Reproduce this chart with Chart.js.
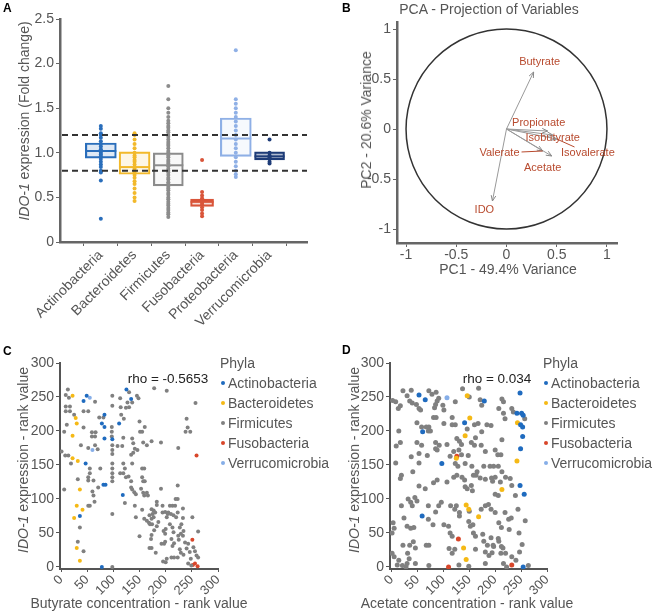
<!DOCTYPE html>
<html>
<head>
<meta charset="utf-8">
<script src="https://cdn.jsdelivr.net/npm/chart.js@4/dist/chart.umd.min.js"></script>
<style>
body{margin:0;background:#fff;font-family:"Liberation Sans",Arial,sans-serif;}
#wrap{position:relative;width:654px;height:612px;overflow:hidden;}
canvas{position:absolute;}
.t{position:absolute;white-space:nowrap;color:#555;font-size:14px;line-height:1;}
.rot{transform:translate(-50%,-50%) rotate(-90deg);}
.ctr{transform:translate(-50%,-50%);}
.letter{position:absolute;font-weight:bold;font-size:12px;color:#000;line-height:1;}
.rho{position:absolute;white-space:nowrap;color:#222;font-size:13.5px;line-height:1;transform:translate(-50%,-50%);}
.leg{position:absolute;font-size:14px;color:#555;line-height:1;}
.leg div{position:relative;height:20px;padding-left:8px;white-space:nowrap;}
.leg span{position:absolute;left:1px;top:5px;width:4px;height:4px;border-radius:50%;}
</style>
</head>
<body>
<div id="wrap">
<canvas id="cA" width="327" height="350" style="left:0;top:0"></canvas>
<canvas id="cB" width="327" height="300" style="left:327px;top:0"></canvas>
<canvas id="cC" width="327" height="272" style="left:0;top:340px"></canvas>
<canvas id="cD" width="327" height="272" style="left:327px;top:340px"></canvas>

<div class="letter" style="left:3px;top:2px">A</div>
<div class="t rot" style="left:24px;top:121px"><i>IDO-1</i> expression (Fold change)</div>

<div class="letter" style="left:342px;top:2px">B</div>
<div class="t ctr" style="left:489px;top:9px">PCA - Projection of Variables</div>
<div class="t rot" style="left:366px;top:120px">PC2 - 20.6% Variance</div>
<div class="t ctr" style="left:508px;top:269px">PC1 - 49.4% Variance</div>

<div class="letter" style="left:3px;top:345px">C</div>
<div class="t rot" style="left:23px;top:460px"><i>IDO-1</i> expression - rank value</div>
<div class="t ctr" style="left:139px;top:603px">Butyrate concentration - rank value</div>
<div class="rho" style="left:168px;top:379px">rho = -0.5653</div>
<div class="leg" id="legC" style="left:220px;top:356px"></div>

<div class="letter" style="left:342px;top:344px">D</div>
<div class="t rot" style="left:354px;top:460px"><i>IDO-1</i> expression - rank value</div>
<div class="t ctr" style="left:467px;top:603px">Acetate concentration - rank value</div>
<div class="rho" style="left:497px;top:379px">rho = 0.034</div>
<div class="leg" id="legD" style="left:543px;top:356px"></div>
</div>

<script>
// ---- Panel A: fold change by phylum
const phyla = ["Actinobacteria","Bacteroidetes","Firmicutes","Fusobacteria","Proteobacteria","Verrucomicrobia"];
const boxQ1 = [0.94,0.76,0.63,0.40,0.96,0.92];
const boxQ3 = [1.11,1.01,1.00,0.48,1.39,1.01];
const boxMedian = [1.02,0.84,0.86,0.45,1.16,0.96];
const foldActino = [1.3,1.27,1.22,1.2,1.17,1.13,1.1,1.07,1.04,1.02,1.0,0.98,0.96,0.93,0.9,0.87,0.84,0.8,0.78,0.69,0.26];
const foldBactero = [1.22,1.2,1.15,1.1,1.05,1.0,0.97,0.95,0.92,0.9,0.87,0.84,0.82,0.8,0.78,0.75,0.72,0.68,0.65,0.6,0.55,0.5,0.46];
const foldFirmi = [0.28,0.31,0.33,0.36,0.38,0.41,0.43,0.45,0.48,0.5,0.53,0.55,0.58,0.6,0.62,0.65,0.67,0.7,0.72,0.75,0.78,0.8,0.82,0.85,0.88,0.9,0.92,0.95,0.97,1.0,1.02,1.05,1.08,1.1,1.12,1.15,1.18,1.2,1.23,1.25,1.28,1.3,1.33,1.36,1.4,1.45,1.5,1.6,1.75];
const foldFuso = [0.92,0.56,0.52,0.49,0.46,0.44,0.42,0.39,0.36,0.32,0.29];
const foldProteo = [2.15,1.6,1.55,1.5,1.45,1.4,1.35,1.3,1.25,1.2,1.15,1.1,1.05,1.0,0.95,0.9,0.85,0.8,0.76,0.73];
const foldVerruco = [1.15,1.0,0.97,0.95,0.93,0.9,0.88];
const cutoffs = [0.8,1.2];

// ---- Panel B: PCA variable projections
const pcaVars = ["Butyrate","Propionate","Isobutyrate","Valerate","Isovalerate","Acetate","IDO"];
const pcaX = [0.27,0.41,0.46,0.36,0.50,0.45,-0.14];
const pcaY = [0.57,-0.02,-0.06,-0.22,-0.10,-0.27,-0.72];
const pcaLabelX = [0.33,0.32,0.46,-0.07,0.81,0.36,-0.22];
const pcaLabelY = [0.67,0.06,-0.09,-0.24,-0.24,-0.39,-0.81];
const pcaConnector = [false,false,false,true,true,false,false];

// ---- Panels C and D: rank scatter, [concentration rank, IDO-1 rank]
const legendPhyla = ["Actinobacteria","Bacteroidetes","Firmicutes","Fusobacteria","Verrucomicrobia"];
const cActino = [[49,252],[43,244],[125,261],[134,247],[83,224],[78,211],[83,206],[111,211],[83,189],[98,188],[47,152],[81,121],[85,121],[118,106],[36,75],[78,0]];
const cBactero = [[22,252],[28,219],[30,211],[22,193],[22,160],[32,156],[36,114],[30,90],[41,84],[25,72],[30,28],[36,9]];
const cFirmi = [[13,261],[9,253],[15,249],[65,243],[98,252],[98,237],[130,257],[127,242],[136,242],[145,252],[148,248],[178,263],[202,259],[257,241],[9,236],[9,229],[17,236],[17,229],[25,224],[43,229],[52,229],[73,220],[81,220],[97,206],[124,234],[130,235],[160,206],[151,199],[155,199],[240,218],[242,205],[247,199],[238,199],[11,209],[6,199],[43,205],[59,198],[66,198],[59,192],[65,192],[97,199],[97,192],[119,190],[136,189],[138,182],[173,185],[191,183],[224,175],[38,179],[52,175],[65,179],[70,173],[98,179],[98,172],[98,166],[108,178],[117,178],[134,165],[138,168],[141,174],[146,172],[157,183],[164,179],[8,164],[14,164],[1,170],[115,224],[120,218],[150,214],[113,248],[114,235],
[19,152],[55,145],[75,145],[98,152],[98,145],[98,138],[98,132],[98,126],[119,152],[122,145],[136,152],[155,145],[159,145],[113,138],[119,138],[124,132],[129,133],[134,126],[155,132],[157,126],[160,126],[55,138],[52,132],[32,129],[52,127],[62,127],[6,114],[71,117],[60,111],[62,105],[64,96],[52,90],[55,90],[98,78],[122,94],[134,117],[136,114],[140,110],[143,107],[153,115],[157,109],[159,105],[164,109],[166,105],[141,90],[155,84],[143,73],[159,71],[164,68],[169,76],[170,63],[173,85],[177,83],[180,80],[183,96],[183,91],[175,78],[177,73],[173,71],[168,65],[174,63],[191,115],[194,90],[194,80],[199,81],[204,78],[202,73],[208,90],[205,80],[210,78],[223,120],[219,100],[223,100],[213,90],[218,90],[215,76],[220,73],[223,80],[233,86],[233,72],[227,58],[230,63],[178,54],[183,60],[186,66],[173,47],[172,41],[150,45],[169,28],[173,28],[181,21],[192,34],[197,34],[199,37],[196,53],[200,56],[199,49],[208,63],[213,58],[215,51],[211,41],[216,35],[213,31],[224,46],[225,40],[229,49],[227,26],[234,53],[233,46],[237,36],[240,27],[243,34],[246,22],[248,12],[195,8],[200,7],[202,12],[211,14],[216,14],[223,14],[229,21],[234,18],[251,73],[262,52],[253,29],[256,23],[259,17],[262,14],[243,5],[249,2],[36,58],[32,37],[43,23],[98,0]];
const cFuso = [[259,164],[251,40],[252,3],[256,5],[261,1]];
const cVerruco = [[55,249],[60,172]];

const dActino = [[53,253],[65,246],[179,244],[248,256],[242,226],[251,226],[254,223],[249,209],[253,206],[253,192],[249,174],[141,212],[60,199],[97,152],[59,75],[248,120],[256,107],[254,0]];
const dBactero = [[146,252],[151,219],[142,193],[125,160],[243,212],[242,156],[213,114],[144,91],[149,85],[168,74],[139,28],[144,11]];
const dFirmi = [[22,259],[38,260],[72,259],[78,254],[86,257],[91,248],[88,244],[85,239],[83,234],[137,262],[168,263],[171,246],[174,238],[123,243],[17,237],[13,233],[35,244],[40,241],[48,239],[53,233],[56,231],[99,238],[101,231],[213,247],[216,243],[207,233],[216,226],[219,218],[232,233],[235,228],[257,218],[81,220],[86,220],[117,220],[49,212],[58,206],[67,206],[72,206],[71,200],[75,200],[14,200],[101,211],[117,209],[123,209],[146,203],[160,209],[167,211],[174,199],[184,209],[192,208],[162,190],[17,183],[9,178],[49,183],[58,179],[85,183],[92,179],[85,174],[88,172],[107,180],[126,189],[131,185],[135,180],[154,183],[160,179],[173,179],[181,170],[205,165],[211,165],[200,172],[213,187],[120,170],[130,172],[135,165],[113,163],[148,164],[38,162],[53,167],[69,164],[2,245],[8,243],[30,252],[150,250],
[8,153],[53,153],[123,152],[128,148],[142,152],[155,148],[178,148],[190,148],[197,148],[206,148],[165,140],[158,135],[19,135],[17,130],[41,140],[53,119],[65,115],[81,124],[88,128],[107,125],[120,132],[126,135],[136,132],[141,128],[142,118],[146,115],[154,120],[156,112],[163,135],[171,131],[181,129],[193,131],[195,126],[200,132],[210,125],[213,140],[200,107],[206,105],[220,132],[229,130],[232,120],[239,105],[19,90],[32,100],[37,95],[40,90],[45,102],[49,97],[71,90],[85,81],[91,90],[96,95],[114,90],[122,85],[125,90],[131,80],[131,75],[150,82],[157,62],[173,85],[181,90],[187,92],[192,85],[200,80],[207,65],[212,58],[219,80],[226,70],[231,72],[227,55],[244,85],[246,50],[258,68],[24,72],[3,65],[5,57],[1,50],[30,60],[37,57],[43,58],[71,70],[80,62],[101,62],[110,60],[113,50],[117,45],[149,67],[152,60],[158,50],[162,45],[176,48],[178,38],[192,43],[197,30],[194,21],[207,38],[212,30],[211,20],[1,20],[5,15],[14,10],[31,20],[34,12],[30,5],[11,3],[21,2],[28,0],[46,5],[72,2],[130,3],[149,1],[181,5],[216,5],[222,0],[264,2],[22,32],[35,32],[42,37],[46,28],[67,32],[72,32],[111,27],[117,20],[122,26],[162,26],[181,22],[188,17],[232,15],[240,10],[185,32],[196,32],[206,42],[215,28],[220,20],[252,33],[247,22]];
const dFuso = [[126,163],[129,41],[110,0],[232,3]];
const dVerruco = [[107,249]];

// styles
const boxColors = ["#2a6ebb","#f2b92b","#8c8c8c","#d9553a","#8fb0e6","#1e3c78"];
const boxFills = ["rgba(42,110,187,0.15)","rgba(242,185,43,0.12)","rgba(140,140,140,0.06)","rgba(217,85,58,0.2)","rgba(143,176,230,0.08)","rgba(30,60,120,0.35)"];
const boxWidths = [31,31,30,23,31,30];
const dotColors = ["#1f6bbf","#f5b915","#808080","#d8462a","#86aee8"];

Chart.defaults.font.family = "'Liberation Sans', Arial, sans-serif";
Chart.defaults.color = "#555";

function axisGrid(c){ return {display:true, drawOnChartArea:false, drawTicks:true, tickLength:4, color:c}; }

// A
const foldValues = [foldActino,foldBactero,foldFirmi,foldFuso,foldProteo,foldVerruco];
const aSets = [];
phyla.forEach((p,i)=>{
  aSets.push({type:'scatter', data:foldValues[i].map(v=>({x:i+1,y:v})), backgroundColor:boxColors[i], borderWidth:0, pointRadius:2, order:1});
});
aSets.push({type:'scatter', data:boxMedian.map((m,i)=>({x:i+1,y:m})), pointStyle:'line', pointRadius:boxWidths.map(w=>w/2), borderColor:boxColors, borderWidth:2, order:0});
phyla.forEach((p,i)=>{
  aSets.push({type:'bar', data:[{x:i+1,y:[boxQ1[i],boxQ3[i]]}], backgroundColor:boxFills[i], borderColor:boxColors[i], borderWidth:1.5, borderSkipped:false, barThickness:boxWidths[i], grouped:false, order:2});
});
const cutoffPlugin = {
  id:'cutoff',
  afterDatasetsDraw(chart){
    const {ctx, chartArea, scales} = chart;
    ctx.save();
    ctx.setLineDash([6,4]);
    ctx.lineWidth = 2;
    ctx.strokeStyle = '#333';
    cutoffs.forEach(v=>{
      const py = scales.y.getPixelForValue(v);
      ctx.beginPath(); ctx.moveTo(chartArea.left+2,py); ctx.lineTo(chartArea.right,py); ctx.stroke();
    });
    ctx.restore();
  }
};
new Chart(document.getElementById('cA'),{
  type:'scatter',
  data:{datasets:aSets},
  plugins:[cutoffPlugin],
  options:{
    responsive:false, animation:false,
    layout:{padding:{top:19,right:20,bottom:0,left:0}},
    plugins:{legend:{display:false},tooltip:{enabled:false}},
    scales:{
      x:{type:'linear',min:0.4,max:6.5,
        afterFit:s=>{s.height=108;},
        afterBuildTicks:s=>{s.ticks=phyla.map((p,i)=>({value:i+1}));},
        ticks:{autoSkip:false,minRotation:45,maxRotation:45,padding:1,font:{size:14},callback:v=>phyla[v-1]},
        grid:axisGrid('#666'), border:{color:'#666',width:2.5}},
      y:{min:0,max:2.5,
        afterFit:s=>{s.width=60;},
        ticks:{stepSize:0.5,font:{size:14},padding:2},
        grid:axisGrid('#666'), border:{color:'#666',width:2.5}}
    }
  }
});

// B
const pcaSets = pcaVars.map((v,i)=>({data:[{x:0,y:0},{x:pcaX[i],y:pcaY[i]}], showLine:true, borderColor:'#999', borderWidth:1, pointRadius:0}));
const pcaPlugin = {
  id:'pca',
  beforeDatasetsDraw(chart){
    const {ctx, scales:{x,y}} = chart;
    const cx = x.getPixelForValue(0), cy = y.getPixelForValue(0);
    ctx.save();
    ctx.strokeStyle = '#333'; ctx.lineWidth = 1.5;
    ctx.beginPath();
    ctx.ellipse(cx,cy,x.getPixelForValue(1)-cx,cy-y.getPixelForValue(1),0,0,Math.PI*2);
    ctx.stroke();
    ctx.restore();
  },
  afterDatasetsDraw(chart){
    const {ctx, scales:{x,y}} = chart;
    const ox = x.getPixelForValue(0), oy = y.getPixelForValue(0);
    ctx.save();
    ctx.font = "11px 'Liberation Sans', Arial, sans-serif";
    ctx.textAlign = 'center'; ctx.textBaseline = 'middle';
    pcaVars.forEach((name,i)=>{
      const tx = x.getPixelForValue(pcaX[i]), ty = y.getPixelForValue(pcaY[i]);
      const a = Math.atan2(ty-oy, tx-ox);
      ctx.strokeStyle = '#888'; ctx.lineWidth = 1;
      ctx.beginPath();
      ctx.moveTo(tx-6*Math.cos(a-0.4), ty-6*Math.sin(a-0.4));
      ctx.lineTo(tx,ty);
      ctx.lineTo(tx-6*Math.cos(a+0.4), ty-6*Math.sin(a+0.4));
      ctx.stroke();
      const lx = x.getPixelForValue(pcaLabelX[i]), ly = y.getPixelForValue(pcaLabelY[i]);
      if(pcaConnector[i]){
        const hw = ctx.measureText(name).width/2+2, hh = 6;
        const dx = tx-lx, dy = ty-ly;
        const t = Math.min(dx?hw/Math.abs(dx):1e9, dy?hh/Math.abs(dy):1e9);
        ctx.strokeStyle = '#b84a2e'; ctx.lineWidth = 1;
        ctx.beginPath(); ctx.moveTo(lx+dx*t, ly+dy*t); ctx.lineTo(tx,ty); ctx.stroke();
      }
      ctx.fillStyle = '#b84a2e';
      ctx.fillText(name, lx, ly);
    });
    ctx.restore();
  }
};
const pcaTicks = [-1,-0.5,0,0.5,1];
new Chart(document.getElementById('cB'),{
  type:'scatter',
  data:{datasets:pcaSets},
  plugins:[pcaPlugin],
  options:{
    responsive:false, animation:false,
    layout:{padding:{top:22,right:37,bottom:0,left:0}},
    plugins:{legend:{display:false},tooltip:{enabled:false}},
    scales:{
      x:{type:'linear',min:-1.09,max:1.1,
        afterFit:s=>{s.height=57;},
        afterBuildTicks:s=>{s.ticks=pcaTicks.map(v=>({value:v}));},
        ticks:{font:{size:14},maxRotation:0,padding:0,callback:v=>String(v)},
        grid:axisGrid('#666'), border:{color:'#666',width:2.5}},
      y:{min:-1.14,max:1.07,
        afterFit:s=>{s.width=70;},
        afterBuildTicks:s=>{s.ticks=pcaTicks.map(v=>({value:v}));},
        ticks:{font:{size:14},padding:2,callback:v=>String(v)},
        grid:axisGrid('#666'), border:{color:'#666',width:2.5}}
    }
  }
});

// C and D
const rankTicks = [0,50,100,150,200,250,300];
function rankChart(id, groups, left, padRight, xmin, radius){
  new Chart(document.getElementById(id),{
    type:'scatter',
    data:{datasets:groups.map((g,i)=>({label:legendPhyla[i], data:g.map(p=>({x:p[0],y:p[1]})), backgroundColor:dotColors[i], borderWidth:0, pointRadius:radius}))},
    options:{
      responsive:false, animation:false,
      layout:{padding:{top:23,right:padRight,bottom:0,left:0}},
      plugins:{legend:{display:false},tooltip:{enabled:false}},
      scales:{
        x:{type:'linear',min:xmin,max:300,
          afterFit:s=>{s.height=43;},
          afterBuildTicks:s=>{s.ticks=rankTicks.map(v=>({value:v}));},
          ticks:{autoSkip:false,minRotation:45,maxRotation:45,padding:0,font:{size:13}},
          grid:{display:true, drawOnChartArea:false, drawTicks:true, tickLength:3, color:'#555'}, border:{color:'#555',width:2}},
        y:{min:-3,max:300,
          afterFit:s=>{s.width=left;},
          afterBuildTicks:s=>{s.ticks=rankTicks.map(v=>({value:v}));},
          ticks:{font:{size:14},padding:2},
          grid:axisGrid('#555'), border:{color:'#555',width:2}}
      }
    }
  });
}
rankChart('cC',[cActino,cBactero,cFirmi,cFuso,cVerruco],60,109,-2,2);
rankChart('cD',[dActino,dBactero,dFirmi,dFuso,dVerruco],63,107,-3,2.5);

function buildLegend(id){
  const el = document.getElementById(id);
  let html = '<div style="padding-left:0">Phyla</div>';
  legendPhyla.forEach((p,i)=>{ html += '<div><span style="background:'+dotColors[i]+'"></span>'+p+'</div>'; });
  el.innerHTML = html;
}
buildLegend('legC');
buildLegend('legD');
</script>
</body>
</html>
